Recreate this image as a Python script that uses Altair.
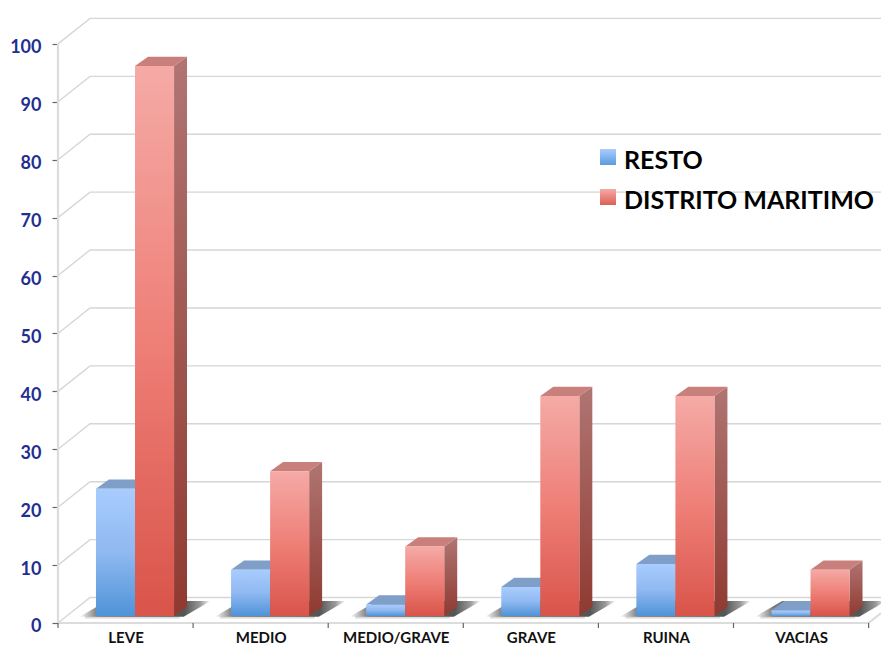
import altair as alt
import pandas as pd

categories = ["LEVE", "MEDIO", "MEDIO/GRAVE", "GRAVE", "RUINA", "VACIAS"]
resto = [22, 8, 2, 5, 9, 1]
distrito = [95, 25, 12, 38, 38, 8]
y_ticks = list(range(0, 101, 10))
legend_names = ["RESTO", "DISTRITO MARITIMO"]

FONT = "Lato"
# pseudo-3D projection, in data units
WALL_DX, WALL_DY = 0.237, 4.4   # depth of the floor/back wall
BAR_DX, BAR_DY = 0.096, 1.6     # depth of a bar
BASE = 1.2                      # bars stand slightly behind the front edge of the floor
X_MAX = 823 / 135.1
Y_MIN, Y_MAX = -0.864, 106.2

xs = alt.Scale(domain=[0, X_MAX], nice=False, zero=False)
ys = alt.Scale(domain=[Y_MIN, Y_MAX], nice=False, zero=False)

x_axis = alt.Axis(
    values=[i + 0.5 for i in range(len(categories))],
    labelExpr="%s[floor(datum.value)]" % categories,
    title=None, domain=False, ticks=False, grid=False, labelAngle=0,
    labelFont=FONT, labelFontWeight="bold", labelFontSize=15, labelColor="#111111",
    labelPadding=2)
y_axis = alt.Axis(
    values=y_ticks, title=None, domain=False, grid=False, format="d",
    tickColor="#666666", tickSize=6, tickWidth=1.2, labelPadding=11, labelOffset=4,
    labelFont=FONT, labelFontWeight="bold", labelFontSize=18, labelColor="#1f2f8f")


def X(f="x"):
    return alt.X(f"{f}:Q", scale=xs, axis=x_axis)


def Y(f="y"):
    return alt.Y(f"{f}:Q", scale=ys, axis=y_axis, stack=False)


def grad(*cols, horizontal=False, offsets=None):
    n = len(cols) - 1
    offs = offsets or [i / n for i in range(n + 1)]
    stops = [alt.GradientStop(color=c, offset=o) for c, o in zip(cols, offs)]
    return alt.Gradient(gradient="linear", stops=stops, x1=0, x2=1 if horizontal else 0,
                        y1=0, y2=0 if horizontal else 1)


# walls and gridlines ---------------------------------------------------------
rows = []
for v in y_ticks:
    rows += [dict(x=0, y=v, g=v), dict(x=WALL_DX, y=v + WALL_DY, g=v), dict(x=X_MAX, y=v + WALL_DY, g=v)]
grid = alt.Chart(pd.DataFrame(rows)).mark_line(color="#d6d6d6", strokeWidth=1.4).encode(
    x=X(), y=Y(), detail="g:N")

frame_rows = [
    dict(x=0, y=0, g="left"), dict(x=0, y=100, g="left"),
    dict(x=0, y=0, g="front"), dict(x=len(categories), y=0, g="front"),
    dict(x=len(categories), y=0, g="right"), dict(x=X_MAX, y=(X_MAX - len(categories)) / WALL_DX * WALL_DY, g="right"),
]
frame = alt.Chart(pd.DataFrame(frame_rows)).mark_line(color="#dcdcdc", strokeWidth=2.2).encode(
    x=X(), y=Y(), detail="g:N")

tick_rows = [dict(x=i, y=0, y2=-0.86) for i in range(len(categories) + 1)]
xticks = alt.Chart(pd.DataFrame(tick_rows)).mark_rule(color="#666666", strokeWidth=1.2).encode(
    x=X(), y=Y(), y2="y2:Q")

# floor shadows ---------------------------------------------------------------
sh, strip = [], []
for i in range(len(categories)):
    sh += [dict(x=i + 0.16, x2=i + 0.93, y=BASE - 0.1, g=i),
           dict(x=i + 0.36, x2=i + 1.13, y=BASE + 2.6, g=i)]
    strip.append(dict(x=i + 0.2, x2=i + 0.9, y=BASE - 0.5, y2=BASE))
shadow = alt.Chart(pd.DataFrame(sh)).mark_area(
    orient="horizontal",
    color=grad("#ffffff", "#bbbbbb", "#777777", "#555555", "#999999", "#ffffff", horizontal=True,
               offsets=[0, 0.07, 0.14, 0.8, 0.92, 1]),
).encode(x=X(), x2="x2:Q", y=Y(), detail="g:N")
floor_strip = alt.Chart(pd.DataFrame(strip)).mark_bar(color=grad("#c4c4c4", "#f2f2f2")).encode(
    x=X(), x2="x2:Q", y=Y(), y2="y2:Q")


def bars(values, left, right, front, top, side):
    side_rows, top_rows, front_rows = [], [], []
    for i, v in enumerate(values):
        a, b = i + left, i + right
        t, f = v + BASE, BASE
        front_rows.append(dict(x=a, x2=b, y=f, y2=t))
        side_rows += [dict(x=b, y=f, y2=t, g=i),
                      dict(x=b + BAR_DX, y=f + BAR_DY, y2=t + BAR_DY, g=i)]
        top_rows += [dict(x=a, x2=b, y=t, g=i),
                     dict(x=a + BAR_DX, x2=b + BAR_DX, y=t + BAR_DY, g=i)]
    s = alt.Chart(pd.DataFrame(side_rows)).mark_area(color=side).encode(
        x=X(), y=Y(), y2="y2:Q", detail="g:N")
    tp = alt.Chart(pd.DataFrame(top_rows)).mark_area(orient="horizontal", color=top).encode(
        x=X(), x2="x2:Q", y=Y(), detail="g:N")
    fr = alt.Chart(pd.DataFrame(front_rows)).mark_bar(color=front).encode(
        x=X(), x2="x2:Q", y=Y(), y2="y2:Q")
    return [s, tp, fr]


BLUE = grad("#a9ccff", "#8fb9f0", "#4f93d8")
RED = grad("#f5aaa6", "#ee7f77", "#d9544a")
blue_layers = bars(resto, 0.281, 0.57, BLUE, "#7f9fc9", grad("#6f8db5", "#3d6a9c"))
red_layers = bars(distrito, 0.57, 0.859, RED, "#c9807d", grad("#b07572", "#8f3a31"))

# legend ----------------------------------------------------------------------
OX, OY = 58, 8
legend = []
for name, fill, top_px in zip(legend_names, [grad("#a9ccff", "#5b9bdc"), grad("#f5aaa6", "#dc5f55")], [149, 189]):
    d = pd.DataFrame({"name": [name]})
    legend.append(alt.Chart(d).mark_bar(color=fill).encode(
        x=alt.value(600 - OX), x2=alt.value(616 - OX),
        y=alt.value(top_px - OY), y2=alt.value(top_px + 16 - OY)))
    legend.append(alt.Chart(d).mark_text(
        align="left", baseline="middle", font=FONT, fontWeight="bold", fontSize=25, color="#000000",
    ).encode(x=alt.value(624 - OX), y=alt.value(top_px + 12 - OY), text="name:N"))

chart = alt.layer(grid, frame, xticks, floor_strip, shadow, *blue_layers, *red_layers, *legend).properties(
    width=823, height=620, autosize=alt.AutoSizeParams(type="none"),
    padding={"left": 50, "top": 0, "right": 0, "bottom": 18},
    background="#ffffff",
).configure_view(stroke=None)

chart.save("out.html", embed_options={"renderer": "svg", "actions": False})
